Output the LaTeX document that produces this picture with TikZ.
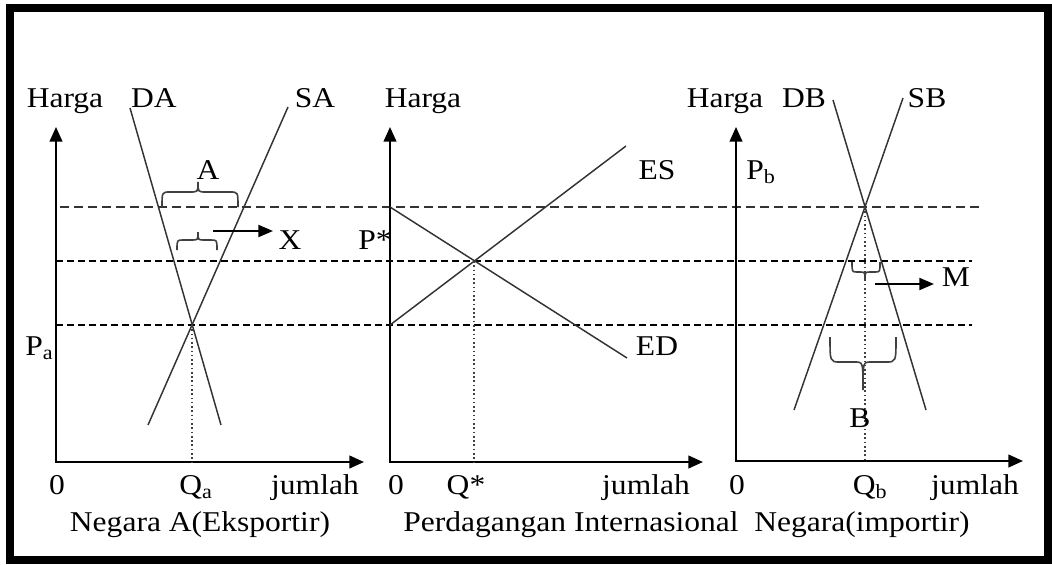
\documentclass[tikz,border=0pt]{standalone}
\usepackage{fontspec}
\setmainfont{Liberation Serif}[FakeStretch=1.1]
\usetikzlibrary{arrows.meta}
\begin{document}
\begin{tikzpicture}[x=0.75pt,y=-0.75pt,
  lbl/.style={font=\fontsize{21.5}{24}\selectfont, inner sep=0pt, anchor=base},
  axis/.style={line width=1.6pt,{Triangle[length=11pt,width=9.5pt]}-{Triangle[length=11pt,width=9.5pt]}},
  curve/.style={line width=1.1pt, draw=black!80},
  dtop/.style={line width=1.2pt, draw=black!80, dash pattern=on 6.75pt off 3.75pt},
  dlow/.style={line width=2.1pt, draw=black, dash pattern=on 5.25pt off 3pt},
  vdot/.style={line width=1.2pt, dotted, draw=black!75},
  bracel/.style={line width=1.2pt, draw=black!75},
  pointer/.style={line width=1.6pt,-{Triangle[length=11pt,width=9pt]}}]
\useasboundingbox (0,0) rectangle (1052,564);
\draw[line width=6pt] (10,8) rectangle (1048,560);

% dashed price lines
\coordinate (t0) at (60,207);  \coordinate (t1) at (980,207);
\coordinate (m0) at (56,261);  \coordinate (m1) at (972,261);
\coordinate (l0) at (56,325);  \coordinate (l1) at (972,325);
\draw[dtop] (t0) -- (t1);
\draw[dlow] (m0) -- (m1);
\draw[dlow] (l0) -- (l1);

% axes
\coordinate (o1) at (56,462);  \coordinate (y1) at (56,127);  \coordinate (x1) at (364,462);
\coordinate (o2) at (390,462); \coordinate (y2) at (390,127); \coordinate (x2) at (703,462);
\coordinate (o3) at (736,461); \coordinate (y3) at (736,127); \coordinate (x3) at (1023,461);
\draw[axis] (y1) -- (o1) -- (x1);
\draw[axis] (y2) -- (o2) -- (x2);
\draw[axis] (y3) -- (o3) -- (x3);

% panel 1 curves
\coordinate (q1) at (192,325);
\coordinate (da0) at (130,108); \coordinate (da1) at (221,425);
\coordinate (sa0) at (288,107); \coordinate (sa1) at (148,425);
\draw[curve] (da0) -- (da1);
\draw[curve] (sa0) -- (sa1);
\coordinate (q1b) at (192,462);
\draw[vdot] (q1) -- (q1b);

% panel 2 curves
\coordinate (q2) at (474,261);
\coordinate (es0) at (390,325); \coordinate (es1) at (626,146);
\coordinate (ed0) at (390,207); \coordinate (ed1) at (627,358);
\draw[curve] (es0) -- (es1);
\draw[curve] (ed0) -- (ed1);
\coordinate (q2b) at (474,462);
\draw[vdot] (q2) -- (q2b);

% panel 3 curves
\coordinate (q3) at (865,207);
\coordinate (db0) at (833,100); \coordinate (db1) at (926,410);
\coordinate (sb0) at (903,98);  \coordinate (sb1) at (794,410);
\draw[curve] (db0) -- (db1);
\draw[curve] (sb0) -- (sb1);
\coordinate (q3b) at (865,461);
\draw[vdot] (q3) -- (q3b);

% braces
\draw[bracel] (162,207) .. controls (162,192) .. (170,192) -- (190,192)
  .. controls (198,192) .. (198,182) .. controls (198,192) .. (206,192) -- (230,192)
  .. controls (238,192) .. (238,207);
\draw[bracel] (177,250) .. controls (177,240) .. (183,240) -- (192,240)
  .. controls (198,240) .. (198,232) .. controls (198,240) .. (204,240) -- (211,240)
  .. controls (217,240) .. (217,250);
\draw[bracel] (852,262) .. controls (852,272) .. (857,272) -- (860,272)
  .. controls (865,272) .. (865,280) .. controls (865,272) .. (870,272) -- (875,272)
  .. controls (880,272) .. (880,262);
\draw[bracel] (830,337) .. controls (830,362) .. (840,362) -- (855,362)
  .. controls (863,362) .. (863,390) .. controls (863,362) .. (871,362) -- (886,362)
  .. controls (896,362) .. (896,337);

% arrows X and M
\coordinate (xa0) at (213,231); \coordinate (xa1) at (273,231);
\draw[pointer] (xa0) -- (xa1);
\coordinate (ma0) at (875,284); \coordinate (ma1) at (934,284);
\draw[pointer] (ma0) -- (ma1);

% labels top
\node[lbl] (h1) at (65,107) {Harga};
\node[lbl] (lda) at (154,107) {DA};
\node[lbl] (lsa) at (315,107) {SA};
\node[lbl] (h2) at (423,107) {Harga};
\node[lbl] (h3) at (725,107) {Harga};
\node[lbl] (ldb) at (804,107) {DB};
\node[lbl] (lsb) at (927,107) {SB};

\node[lbl] (la) at (208,179) {A};
\node[lbl] (lx) at (290,249) {X};
\node[lbl,anchor=base west] (pa) at (25,355) {P\textsubscript{a}};
\node[lbl,anchor=base west] (ps) at (358,249) {P*};
\node[lbl] (les) at (657,179) {ES};
\node[lbl] (led) at (657,355) {ED};
\node[lbl,anchor=base west] (pb) at (746,179) {P\textsubscript{b}};
\node[lbl] (lm) at (956,286) {M};
\node[lbl] (lb) at (860,427) {B};

% labels bottom
\node[lbl] (z1) at (57,494) {0};
\node[lbl] (qa) at (196,494) {Q\textsubscript{a}};
\node[lbl] (j1) at (315,494) {jumlah};
\node[lbl] (z2) at (396,494) {0};
\node[lbl] (qs) at (466,494) {Q*};
\node[lbl] (j2) at (646,494) {jumlah};
\node[lbl] (z3) at (737,494) {0};
\node[lbl] (qb) at (870,494) {Q\textsubscript{b}};
\node[lbl] (j3) at (975,494) {jumlah};
\node[lbl] (n1) at (200,531) {Negara A(Eksportir)};
\node[lbl] (n2) at (571,531) {Perdagangan Internasional};
\node[lbl] (n3) at (862,531) {Negara(importir)};
\end{tikzpicture}
\end{document}
